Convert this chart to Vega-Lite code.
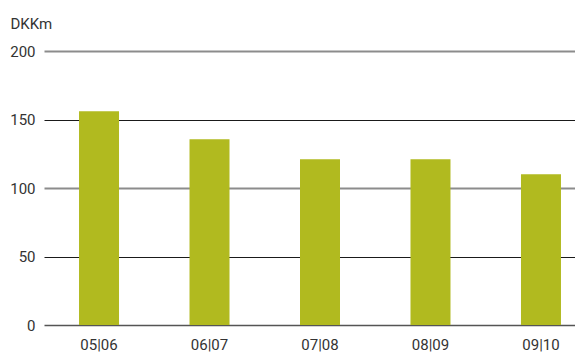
{
  "$schema": "https://vega.github.io/schema/vega-lite/v6.json",
  "autosize": {"type": "none"},
  "padding": {"left": 44, "top": 51, "right": 0, "bottom": 28},
  "width": 552,
  "height": 274,
  "background": "white",
  "data": {"values": [
    {"year": "05|06", "value": 156},
    {"year": "06|07", "value": 135.5},
    {"year": "07|08", "value": 121},
    {"year": "08|09", "value": 121},
    {"year": "09|10", "value": 110}
  ]},
  "mark": {"type": "bar", "color": "#b1ba1f"},
  "encoding": {
    "x": {
      "field": "year", "type": "nominal", "sort": null,
      "scale": {"paddingInner": 0.638, "paddingOuter": 0.317},
      "axis": {"title": null, "labelAngle": 0, "domain": false, "ticks": false, "labelPadding": 12,
               "labelFont": "Roboto", "labelFontSize": 15, "labelColor": "#333333"}
    },
    "y": {
      "field": "value", "type": "quantitative",
      "scale": {"domain": [0, 200], "nice": false},
      "axis": {
        "title": "DKKm", "titleAngle": 0, "titleAlign": "left", "titleBaseline": "middle",
        "titleX": -34, "titleY": -28, "titleFont": "Roboto", "titleFontSize": 15,
        "titleFontWeight": "normal", "titleColor": "#333333",
        "values": [0, 50, 100, 150, 200],
        "domain": false, "ticks": false, "labelPadding": 9,
        "labelFont": "Roboto", "labelFontSize": 15, "labelColor": "#333333",
        "grid": true,
        "gridColor": {"condition": [
          {"test": "datum.value === 0", "value": "#555555"},
          {"test": "datum.value === 150 || datum.value === 50", "value": "#1a1a1a"}
        ], "value": "#8c8c8c"},
        "gridWidth": {"condition": [
          {"test": "datum.value === 0", "value": 1.6},
          {"test": "datum.value === 150 || datum.value === 50", "value": 1.2}
        ], "value": 2},
        "gridOpacity": 1
      }
    }
  },
  "config": {"view": {"stroke": null}}
}
